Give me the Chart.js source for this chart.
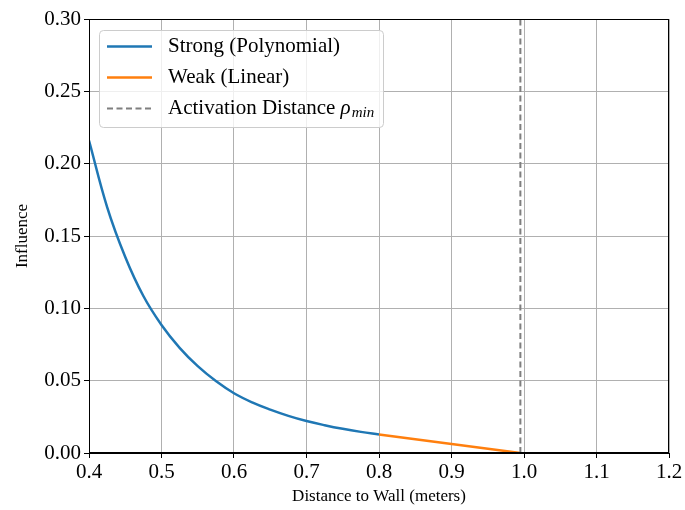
<!DOCTYPE html>
<html>
<head>
<meta charset="utf-8">
<script src="https://cdn.jsdelivr.net/npm/chart.js@4.4.0/dist/chart.umd.min.js"></script>
<style>
  html, body { margin: 0; padding: 0; background: #fff; }
  #wrap { width: 685px; height: 510px; }
</style>
</head>
<body>
<div id="wrap"><canvas id="chart" width="685" height="510"></canvas></div>
<script>
// values
var strongX = [0.400, 0.425, 0.450, 0.475, 0.500, 0.525, 0.550, 0.575, 0.600, 0.625, 0.650, 0.675, 0.700, 0.725, 0.750, 0.775, 0.800];
var strongY = [0.216, 0.170, 0.1355, 0.1085, 0.0885, 0.0727, 0.0600, 0.0497, 0.0413, 0.0350, 0.0300, 0.0257, 0.0221, 0.0192, 0.0167, 0.0146, 0.0128];
var weakX = [0.800, 0.995];
var weakY = [0.0128, 0.0];
var rhoMin = 0.995;
var rhoY = [0.0, 0.30];

var xTicks = [0.4, 0.5, 0.6, 0.7, 0.8, 0.9, 1.0, 1.1, 1.2];
var xTickLabels = ['0.4', '0.5', '0.6', '0.7', '0.8', '0.9', '1.0', '1.1', '1.2'];
var yTicks = [0, 0.05, 0.10, 0.15, 0.20, 0.25, 0.30];
var yTickLabels = ['0.00', '0.05', '0.10', '0.15', '0.20', '0.25', '0.30'];

var serif = '"Liberation Serif", "Times New Roman", serif';

function pts(xs, ys) {
  return xs.map(function (x, i) { return { x: x, y: ys[i] }; });
}

var legendItems = [
  { label: 'Strong (Polynomial)', color: '#1f77b4', dash: [] },
  { label: 'Weak (Linear)', color: '#ff7f0e', dash: [] },
  { label: 'Activation Distance ', color: '#7f7f7f', dash: [6, 3.5], rho: true }
];

var framePlugin = {
  id: 'frame',
  afterDraw: function (chart) {
    var ctx = chart.ctx, a = chart.chartArea;
    ctx.save();
    // spines
    ctx.strokeStyle = '#000';
    ctx.lineWidth = 1;
    ctx.strokeRect(a.left + 0.5, a.top + 0.5, a.right - a.left - 1, a.bottom - a.top - 1);

    // legend box
    var bx = a.left + 10.5, by = a.top + 11.5, bw = 284, bh = 97, r = 4;
    ctx.beginPath();
    ctx.moveTo(bx + r, by);
    ctx.lineTo(bx + bw - r, by);
    ctx.quadraticCurveTo(bx + bw, by, bx + bw, by + r);
    ctx.lineTo(bx + bw, by + bh - r);
    ctx.quadraticCurveTo(bx + bw, by + bh, bx + bw - r, by + bh);
    ctx.lineTo(bx + r, by + bh);
    ctx.quadraticCurveTo(bx, by + bh, bx, by + bh - r);
    ctx.lineTo(bx, by + r);
    ctx.quadraticCurveTo(bx, by, bx + r, by);
    ctx.closePath();
    ctx.fillStyle = 'rgba(255,255,255,0.8)';
    ctx.fill();
    ctx.strokeStyle = '#cccccc';
    ctx.stroke();

    ctx.textBaseline = 'middle';
    ctx.textAlign = 'left';
    legendItems.forEach(function (it, i) {
      var y = by + 16 + i * 31;
      ctx.beginPath();
      ctx.setLineDash(it.dash);
      ctx.strokeStyle = it.color;
      ctx.lineWidth = it.rho ? 2 : 2.5;
      ctx.moveTo(a.left + 18, y);
      ctx.lineTo(a.left + 63, y);
      ctx.stroke();
      ctx.setLineDash([]);
      ctx.fillStyle = '#000';
      ctx.font = '21px ' + serif;
      var tx = a.left + 79;
      ctx.fillText(it.label, tx, y);
      if (it.rho) {
        tx += ctx.measureText(it.label).width;
        ctx.font = 'italic 21px ' + serif;
        ctx.fillText('\u03c1', tx, y);
        tx += ctx.measureText('\u03c1').width + 1;
        ctx.font = 'italic 15px ' + serif;
        ctx.fillText('min', tx, y + 5);
      }
    });
    ctx.restore();
  }
};

var ctx = document.getElementById('chart');
var chart = new Chart(ctx, {
  type: 'scatter',
  data: {
    datasets: [
      {
        label: 'Activation Distance',
        data: pts([rhoMin, rhoMin], rhoY),
        showLine: true,
        borderColor: '#7f7f7f',
        borderWidth: 2,
        borderDash: [6, 3.5],
        pointRadius: 0
      },
      {
        label: 'Weak (Linear)',
        data: pts(weakX, weakY),
        showLine: true,
        borderColor: '#ff7f0e',
        borderWidth: 2.5,
        pointRadius: 0
      },
      {
        label: 'Strong (Polynomial)',
        data: pts(strongX, strongY),
        showLine: true,
        borderColor: '#1f77b4',
        borderWidth: 2.5,
        pointRadius: 0,
        tension: 0.4
      }
    ]
  },
  options: {
    responsive: false,
    animation: false,
    devicePixelRatio: 1,
    layout: { padding: { top: 19, right: 16, left: 0, bottom: 0 } },
    plugins: {
      legend: { display: false },
      tooltip: { enabled: false }
    },
    scales: {
      x: {
        type: 'linear',
        min: 0.4,
        max: 1.2,
        afterBuildTicks: function (s) { s.ticks = xTicks.map(function (v) { return { value: v }; }); },
        afterFit: function (s) { s.height = 57; },
        ticks: {
          color: '#000',
          font: { family: serif, size: 21 },
          padding: 2,
          maxRotation: 0,
          callback: function (v, i) { return xTickLabels[i]; }
        },
        grid: { color: '#b0b0b0', lineWidth: 1, tickColor: '#000', tickLength: 5 },
        border: { color: '#000', width: 1 },
        title: {
          display: true,
          text: 'Distance to Wall (meters)',
          color: '#000',
          font: { family: serif, size: 17 },
          padding: { top: 0, bottom: 3 }
        }
      },
      y: {
        type: 'linear',
        min: 0,
        max: 0.3,
        afterBuildTicks: function (s) { s.ticks = yTicks.map(function (v) { return { value: v }; }); },
        afterFit: function (s) { s.width = 89; },
        ticks: {
          color: '#000',
          font: { family: serif, size: 21 },
          padding: 3,
          callback: function (v, i) { return yTickLabels[i]; }
        },
        grid: { color: '#b0b0b0', lineWidth: 1, tickColor: '#000', tickLength: 5 },
        border: { color: '#000', width: 1 },
        title: {
          display: true,
          text: 'Influence',
          color: '#000',
          font: { family: serif, size: 17 },
          padding: { top: 12, bottom: 0 }
        }
      }
    }
  },
  plugins: [framePlugin]
});
</script>
</body>
</html>
